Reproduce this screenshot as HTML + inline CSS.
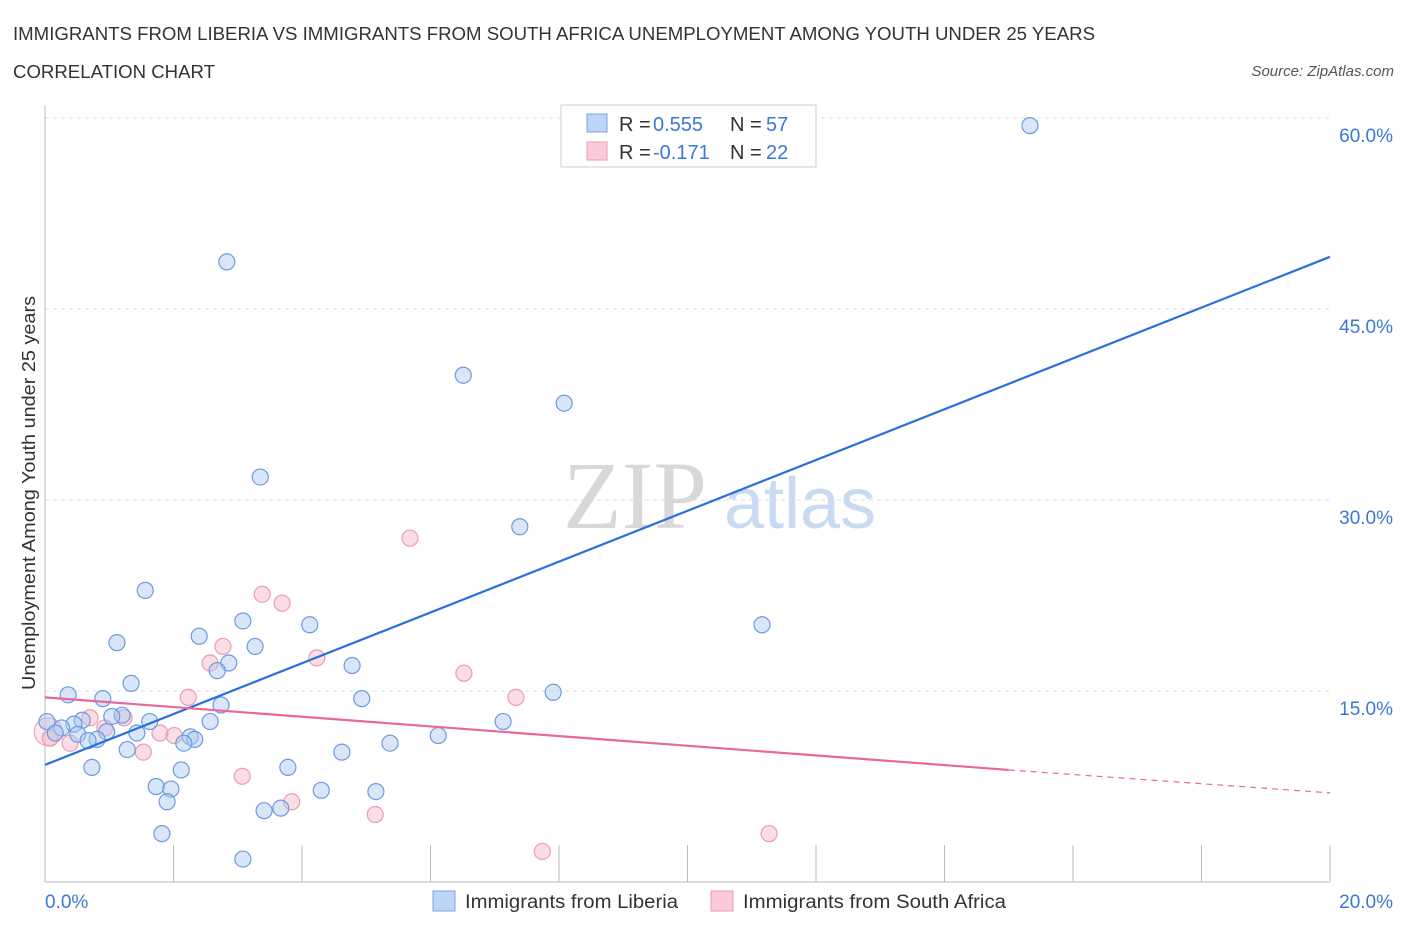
<!DOCTYPE html>
<html><head><meta charset="utf-8"><style>
body{margin:0;background:#fff;font-family:"Liberation Sans",sans-serif;}
</style></head><body>
<svg width="1406" height="930" xmlns="http://www.w3.org/2000/svg" font-family="Liberation Sans, sans-serif">
<text x="13" y="40" font-size="18.5" fill="#333" textLength="1082" lengthAdjust="spacingAndGlyphs">IMMIGRANTS FROM LIBERIA VS IMMIGRANTS FROM SOUTH AFRICA UNEMPLOYMENT AMONG YOUTH UNDER 25 YEARS</text>
<text x="13" y="78" font-size="18.5" fill="#333" textLength="202" lengthAdjust="spacingAndGlyphs">CORRELATION CHART</text>
<text x="1394" y="76" font-size="15" fill="#555" font-style="italic" text-anchor="end">Source: ZipAtlas.com</text>
<g id="grid"></g>
<text x="635" y="528" font-size="96" fill="#d8d8d8" font-family="Liberation Serif, serif" text-anchor="middle">ZIP</text>
<text x="800" y="528" font-size="72" fill="#c9dbf2" text-anchor="middle">atlas</text>
<line x1="45" y1="105" x2="45" y2="882" stroke="#bbb"/>
<line x1="45" y1="882" x2="1330" y2="882" stroke="#bbb"/>
<text x="35" y="493" font-size="18" fill="#333" text-anchor="middle" textLength="394" lengthAdjust="spacingAndGlyphs" transform="rotate(-90 35 493)">Unemployment Among Youth under 25 years</text>
<text x="45" y="908" font-size="19" fill="#3a78d8">0.0%</text>
<text x="1393" y="908" font-size="19" fill="#3a78d8" text-anchor="end">20.0%</text>
<g id="marks"></g>
<g>
<rect x="561" y="105" width="255" height="62" fill="#fff" stroke="#ccc"/>
<rect x="587" y="114" width="20" height="18" fill="#bcd4f5" stroke="#7aa5e0"/>
<rect x="587" y="142" width="20" height="18" fill="#fbcad8" stroke="#ee9ab3"/>
<text x="619" y="131" font-size="20" fill="#333">R =</text>
<text x="653" y="131" font-size="20" fill="#3a78d8">0.555</text>
<text x="730" y="131" font-size="20" fill="#333">N =</text>
<text x="766" y="131" font-size="20" fill="#3a78d8">57</text>
<text x="619" y="159" font-size="20" fill="#333">R =</text>
<text x="653" y="159" font-size="20" fill="#3a78d8">-0.171</text>
<text x="730" y="159" font-size="20" fill="#333">N =</text>
<text x="766" y="159" font-size="20" fill="#3a78d8">22</text>
</g>
<g>
<rect x="433" y="891" width="22" height="20" fill="#bcd4f5" stroke="#7aa5e0"/>
<text x="465" y="908" font-size="19" fill="#333" textLength="213" lengthAdjust="spacingAndGlyphs">Immigrants from Liberia</text>
<rect x="711" y="891" width="22" height="20" fill="#fbcad8" stroke="#ee9ab3"/>
<text x="743" y="908" font-size="19" fill="#333" textLength="263" lengthAdjust="spacingAndGlyphs">Immigrants from South Africa</text>
</g>
</svg>
<script>
const yTicks=[15,30,45,60];
const xTickVals=[0,2,4,6,8,10,12,14,16,18,20];
const blueX=[15.33,2.83,6.51,8.08,3.35,7.39,1.56,11.16,3.08,4.12,1.12,2.40,3.27,2.86,2.68,4.78,1.34,0.36,0.90,7.91,4.93,2.74,1.20,1.04,0.58,1.63,2.57,7.13,0.45,0.03,0.26,0.96,1.43,0.16,0.51,2.26,6.12,0.81,0.67,2.33,2.16,5.37,1.28,4.62,0.73,2.12,3.78,1.73,1.96,4.30,5.15,1.90,3.41,3.67,1.82,3.08];
const blueY=[59.4,48.7,39.8,37.6,31.8,27.9,22.9,20.2,20.5,20.2,18.8,19.3,18.5,17.2,16.6,17.0,15.6,14.7,14.4,14.9,14.4,13.9,13.1,13.0,12.7,12.6,12.6,12.6,12.4,12.6,12.1,11.8,11.7,11.7,11.6,11.4,11.5,11.2,11.1,11.2,10.9,10.9,10.4,10.2,9.0,8.8,9.0,7.5,7.3,7.2,7.1,6.3,5.6,5.8,3.8,1.8];
const pinkX=[5.68,3.38,3.69,2.77,4.23,2.57,6.52,7.33,2.23,0.70,1.23,0.93,1.79,2.01,0.08,0.39,1.53,3.07,3.84,5.14,11.27,7.74];
const pinkY=[27.0,22.6,21.9,18.5,17.6,17.2,16.4,14.5,14.5,12.9,12.9,12.1,11.7,11.5,11.3,10.9,10.2,8.3,6.3,5.3,3.8,2.4];
const blueLine=[[0,9.2],[20,49.1]];
const pinkLine=[[0,14.5],[15,8.8],[20,7.0]];
const X=v=>45+v/20*1285, Y=v=>882-v/15*191;
const NS="http://www.w3.org/2000/svg";
const g=document.getElementById('grid'), m=document.getElementById('marks');
function mk(tag,attrs,parent){const e=document.createElementNS(NS,tag);for(const k in attrs)e.setAttribute(k,attrs[k]);parent.appendChild(e);return e;}
yTicks.forEach(t=>{
 const l=mk('line',{x1:45,x2:1330,y1:Y(t),y2:Y(t),stroke:'#ddd','stroke-dasharray':'4,4'},g);
 
 
 const tx=mk('text',{x:1393,y:Y(t)+24,'font-size':19,fill:'#3a78d8','text-anchor':'end'},g);
 tx.textContent=t.toFixed(1)+'%';
 
 
});
xTickVals.forEach(t=>{
 const l=mk('line',{x1:X(t),x2:X(t),y1:845,y2:882,stroke:'#bbb'},g);
 
 
});
mk('circle',{cx:X(0.05),cy:Y(11.8),r:14,fill:'rgba(247,180,200,0.35)',stroke:'#ee9ab3'},m);
pinkX.forEach((x,i)=>{
 const c=mk('circle',{cx:X(x),cy:Y(pinkY[i]),r:8,fill:'rgba(247,180,200,0.45)',stroke:'#ee9ab3','stroke-width':1.2},m);
 
 
});
blueX.forEach((x,i)=>{
 const c=mk('circle',{cx:X(x),cy:Y(blueY[i]),r:8,fill:'rgba(170,200,240,0.45)',stroke:'#6b9be0','stroke-width':1.2},m);
 
 
});
const bl=mk('line',{x1:X(blueLine[0][0]),y1:Y(blueLine[0][1]),x2:X(blueLine[1][0]),y2:Y(blueLine[1][1]),stroke:'#2a6fdb','stroke-width':2.2},m);


const pl=mk('line',{x1:X(pinkLine[0][0]),y1:Y(pinkLine[0][1]),x2:X(pinkLine[1][0]),y2:Y(pinkLine[1][1]),stroke:'#e8689a','stroke-width':2.2},m);


const pd=mk('line',{x1:X(pinkLine[1][0]),y1:Y(pinkLine[1][1]),x2:X(pinkLine[2][0]),y2:Y(pinkLine[2][1]),stroke:'#e8689a','stroke-width':1.2,'stroke-dasharray':'6,5'},m);


</script>
</body></html>
